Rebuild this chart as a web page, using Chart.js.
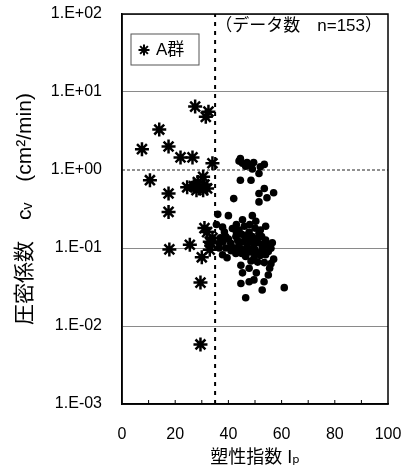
<!DOCTYPE html>
<html>
<head>
<meta charset="utf-8">
<script src="https://cdn.jsdelivr.net/npm/chart.js@4.4.1/dist/chart.umd.min.js"></script>
<style>
  html, body { margin: 0; padding: 0; background: #fff; }
</style>
</head>
<body>
<canvas id="chart" width="409" height="473"></canvas>
<script>
// A群 (asterisks): [Ip, cv]
const groupA = [
  [7.5, 1.85], [10.5, 0.74], [14, 3.3], [17.5, 2.0], [17.5, 0.5], [17.5, 0.29],
  [17.8, 0.096], [22, 1.45], [24.5, 0.6], [25.5, 0.11], [26.5, 1.45], [27, 0.62],
  [27.5, 6.5], [28, 0.55], [28.5, 0.7], [29, 0.6], [29.5, 0.036], [29.5, 0.0058],
  [30, 0.076], [30.5, 0.82], [31, 0.65], [31, 0.18], [31.5, 4.8], [32, 0.58],
  [32.5, 5.6], [33, 0.095], [33.5, 0.115], [34, 1.22], [34, 0.135], [33, 0.12],
  [32, 0.16], [30.5, 0.55]
];

// other samples (dots): [Ip, cv]
const others = [
  [44.5, 1.4], [45.3, 1.22], [47, 1.25], [49.5, 1.25], [53.5, 1.18], [49, 1.03],
  [46.5, 1.12], [44, 1.3], [51.5, 0.9], [44.5, 0.74], [48.5, 0.74], [51.5, 0.5],
  [53.5, 0.58], [57, 0.51], [54.5, 0.44], [51.5, 0.39], [42, 0.43], [48, 1.15],
  [52, 1.1],
  [36, 0.27], [40, 0.26], [49, 0.26], [50.3, 0.22], [45.3, 0.23], [54, 0.19],
  [37.8, 0.185], [41.5, 0.178], [44, 0.17], [47.8, 0.16], [51.5, 0.155], [39, 0.14],
  [42.8, 0.14], [46.5, 0.133], [54, 0.126], [56.5, 0.117], [36.6, 0.115], [40.9, 0.115],
  [44, 0.11], [47, 0.104], [49.6, 0.11], [52.7, 0.104], [56, 0.099], [45.3, 0.093],
  [48.4, 0.089], [51.5, 0.087], [37.8, 0.082], [42.8, 0.085], [54, 0.082], [46.5, 0.078],
  [49.6, 0.074], [57, 0.072], [56, 0.063], [44.7, 0.06], [47.8, 0.055], [45.3, 0.048],
  [49.6, 0.039], [47.8, 0.037], [44.7, 0.035], [53.4, 0.037], [52.7, 0.029], [61, 0.031],
  [46.5, 0.023],
  [43, 0.2], [46, 0.19], [48, 0.2], [50, 0.18], [52, 0.17], [45, 0.15], [49, 0.14],
  [50.5, 0.13], [52.5, 0.14], [43.5, 0.125], [45.5, 0.12], [48, 0.12], [51, 0.118],
  [53, 0.112], [55, 0.108], [42, 0.1], [44.5, 0.098], [46, 0.095], [48, 0.097],
  [50, 0.095], [53, 0.094], [55, 0.09], [43, 0.09], [45, 0.085], [47, 0.088],
  [50, 0.083], [52, 0.08], [41, 0.092], [39, 0.1], [38, 0.12], [40, 0.13],
  [38.5, 0.16], [35.5, 0.2], [36.5, 0.1], [37, 0.135], [39.5, 0.075], [48.5, 0.068],
  [51, 0.066], [55.5, 0.055], [55, 0.045], [49.3, 0.125], [46.8, 0.145], [43, 0.16],
  [41, 0.105], [53.5, 0.065], [50.5, 0.048]
];

const ipLimit = 35;       // vertical dotted line
const cvRef = 1;          // horizontal dashed line
const xRange = [0, 100];
const yRange = [0.001, 100];
const xMinorTicks = [10, 20, 30, 40, 50, 60, 70, 80, 90];
const legendLabel = 'A群';
const noteText = '（データ数　n=153）';

const FONT = "'Liberation Sans', Arial, 'Noto Sans CJK JP', 'DejaVu Sans', sans-serif";
const CLEAR = 'rgba(0,0,0,0)';

function toPoints(arr) {
  return arr.map(p => ({ x: p[0], y: p[1] }));
}

function isPow10(v) {
  const e = Math.log10(v);
  return Math.abs(e - Math.round(e)) < 1e-9;
}

function expLabel(v) {
  const e = Math.round(Math.log10(v));
  const s = e < 0 ? '-' : '+';
  return '1.E' + s + String(Math.abs(e)).padStart(2, '0');
}

function drawAsterisk(ctx, x, y, r) {
  ctx.beginPath();
  for (let i = 0; i < 4; i++) {
    const a = i * Math.PI / 4;
    ctx.moveTo(x - r * Math.cos(a), y - r * Math.sin(a));
    ctx.lineTo(x + r * Math.cos(a), y + r * Math.sin(a));
  }
  ctx.stroke();
}

// box, inner ticks, legend and note
const decor = {
  id: 'decor',
  afterDraw(chart) {
    const ctx = chart.ctx;
    const area = chart.chartArea;
    const xs = chart.scales.x, ys = chart.scales.y;
    ctx.save();
    ctx.strokeStyle = '#000';
    ctx.lineWidth = 1.5;
    ctx.strokeRect(area.left, area.top, area.right - area.left, area.bottom - area.top);

    // inner ticks
    ctx.lineWidth = 1;
    ctx.beginPath();
    xMinorTicks.forEach(v => {
      const px = xs.getPixelForValue(v);
      ctx.moveTo(px, area.bottom);
      ctx.lineTo(px, area.bottom - 4);
    });
    ys.ticks.forEach(t => {
      if (isPow10(t.value)) return;
      const py = ys.getPixelForValue(t.value);
      ctx.moveTo(area.left, py);
      ctx.lineTo(area.left + 3, py);
    });
    ctx.stroke();

    // legend box
    const bx = area.left + 9, by = area.top + 20;
    ctx.lineWidth = 1;
    ctx.strokeStyle = '#555';
    ctx.fillStyle = '#fff';
    ctx.fillRect(bx, by, 68, 31);
    ctx.strokeRect(bx, by, 68, 31);
    ctx.strokeStyle = '#000';
    ctx.lineWidth = 2;
    drawAsterisk(ctx, bx + 13, by + 16, 5.5);
    ctx.fillStyle = '#000';
    ctx.font = '17px ' + FONT;
    ctx.textBaseline = 'middle';
    ctx.textAlign = 'left';
    ctx.fillText(legendLabel, bx + 25, by + 16);

    // note
    ctx.textAlign = 'right';
    ctx.fillText(noteText, area.right - 6, area.top + 12);
    ctx.restore();
  }
};

new Chart(document.getElementById('chart'), {
  type: 'scatter',
  data: {
    datasets: [
      {
        label: legendLabel,
        data: toPoints(groupA),
        pointStyle: 'star',
        pointRadius: 7,
        borderWidth: 2.5,
        borderColor: '#000',
        backgroundColor: '#000'
      },
      {
        label: 'others',
        data: toPoints(others),
        pointStyle: 'circle',
        pointRadius: 3.8,
        borderWidth: 0,
        backgroundColor: '#000',
        borderColor: '#000'
      },
      {
        label: 'Ip limit',
        data: [{ x: ipLimit, y: yRange[0] }, { x: ipLimit, y: yRange[1] }],
        showLine: true,
        borderColor: '#000',
        borderWidth: 2,
        borderDash: [4, 5],
        pointRadius: 0
      },
      {
        label: 'cv ref',
        data: [{ x: xRange[0], y: cvRef }, { x: xRange[1], y: cvRef }],
        showLine: true,
        borderColor: '#222',
        borderWidth: 1,
        borderDash: [3, 2],
        pointRadius: 0
      }
    ]
  },
  options: {
    responsive: false,
    animation: false,
    devicePixelRatio: 1,
    layout: { autoPadding: false, padding: { top: 14, right: 21, left: 0, bottom: 0 } },
    plugins: {
      legend: { display: false },
      tooltip: { enabled: false }
    },
    scales: {
      x: {
        type: 'linear',
        min: xRange[0],
        max: xRange[1],
        afterFit(scale) { scale.height = 69; },
        ticks: {
          stepSize: 20,
          padding: 2,
          color: '#000',
          font: { family: FONT, size: 16 }
        },
        grid: { display: false, drawTicks: true, tickLength: 19, tickColor: CLEAR },
        border: { color: '#000', width: 1.5 },
        title: {
          display: true,
          text: '塑性指数 Iₚ',
          color: '#000',
          font: { family: FONT, size: 18 },
          padding: { top: 0, bottom: 4 }
        }
      },
      y: {
        type: 'logarithmic',
        min: yRange[0],
        max: yRange[1],
        afterFit(scale) { scale.width = 122; },
        ticks: {
          padding: 2,
          color: '#000',
          font: { family: FONT, size: 16 },
          autoSkip: false,
          callback(v) { return isPow10(v) ? expLabel(v) : null; }
        },
        grid: {
          drawTicks: true,
          tickLength: 18,
          tickColor: CLEAR,
          color(c) {
            const v = c.tick && c.tick.value;
            if (!v || !isPow10(v)) return CLEAR;
            if (Math.abs(v - cvRef) < 1e-9) return CLEAR;
            return '#8a8a8a';
          }
        },
        border: { color: '#000', width: 1.5 },
        title: {
          display: true,
          text: '圧密係数　cᵥ　(cm²/min)',
          color: '#000',
          font: { family: FONT, size: 21 },
          padding: { top: 13, bottom: 0 }
        }
      }
    }
  },
  plugins: [decor]
});
</script>
</body>
</html>
